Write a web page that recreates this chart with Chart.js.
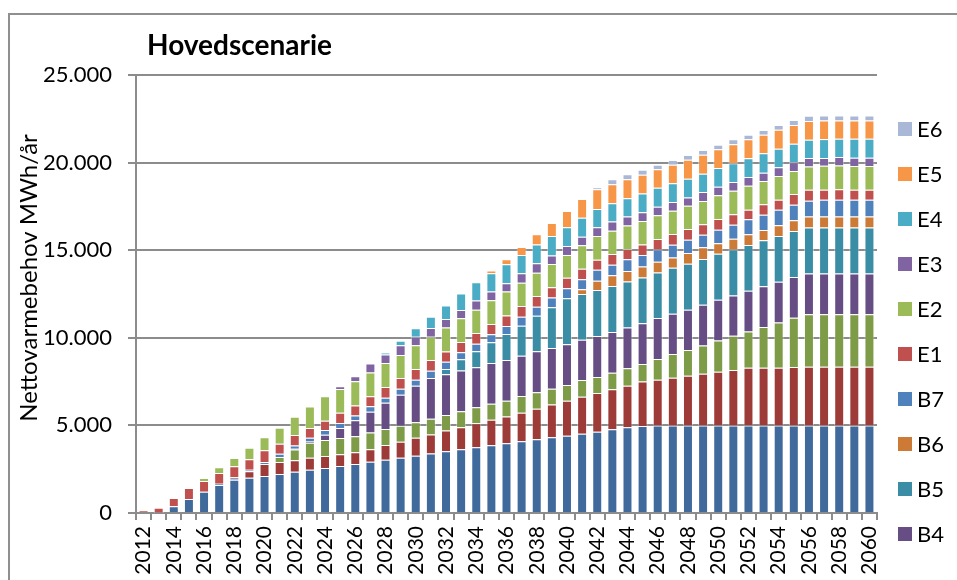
<!DOCTYPE html>
<html>
<head>
<meta charset="utf-8">
<script src="https://cdn.jsdelivr.net/npm/chart.js@4"></script>
<style>
  html, body { margin: 0; padding: 0; background: #fff; overflow: hidden; }
  canvas { display: block; }
</style>
</head>
<body>
<canvas id="chart" width="957" height="580"></canvas>
<script>
"use strict";

const years = [];
for (let y = 2012; y <= 2060; y++) years.push(String(y));

// values in MWh/år, 2012 .. 2060
const b1 = [0, 20, 380, 800, 1218, 1598, 1900, 2017, 2112, 2227,
    2350, 2470, 2569, 2683, 2800, 2920, 3040, 3155, 3271, 3400,
    3522, 3636, 3750, 3864, 3979, 4093, 4207, 4321, 4414, 4528,
    4641, 4776, 4892, 4970, 5000, 5000, 5000, 5000, 5000, 5000,
    5000, 5000, 5000, 5000, 5000, 5000, 5000, 5000, 5000];
const b2 = [0, 0, 0, 0, 0, 0, 40, 362, 685, 685,
    666, 685, 685, 666, 666, 723, 837, 913, 1027, 1084,
    1180, 1256, 1370, 1465, 1522, 1636, 1750, 1865, 1998, 2112,
    2207, 2283, 2378, 2530, 2607, 2721, 2835, 2950, 3064, 3159,
    3292, 3292, 3292, 3330, 3349, 3349, 3349, 3349, 3349];
const b3 = [0, 0, 0, 0, 0, 0, 0, 0, 0, 285,
    609, 856, 913, 932, 913, 951, 913, 913, 875, 894,
    894, 913, 913, 913, 913, 951, 932, 913, 894, 951,
    913, 951, 989, 1009, 1180, 1351, 1465, 1617, 1789, 1960,
    2074, 2322, 2588, 2816, 3001, 3001, 3001, 3001, 3001];
const b4 = [0, 0, 0, 0, 0, 0, 0, 0, 0, 0,
    40, 100, 300, 571, 913, 1180, 1503, 1770, 2093, 2322,
    2322, 2322, 2283, 2322, 2322, 2302, 2340, 2322, 2322, 2302,
    2340, 2322, 2322, 2322, 2340, 2302, 2302, 2322, 2322, 2302,
    2322, 2322, 2322, 2322, 2322, 2322, 2322, 2322, 2322];
const b5 = [0, 0, 0, 0, 0, 0, 0, 0, 0, 0,
    0, 0, 0, 0, 0, 0, 0, 0, 0, 0,
    304, 647, 913, 1180, 1484, 1712, 2036, 2322, 2626, 2607,
    2626, 2626, 2626, 2607, 2607, 2626, 2626, 2607, 2626, 2626,
    2607, 2626, 2607, 2626, 2626, 2626, 2626, 2626, 2626];
const b6 = [0, 0, 0, 0, 0, 0, 0, 0, 0, 0,
    0, 0, 0, 0, 0, 0, 0, 0, 0, 0,
    0, 0, 0, 0, 0, 0, 0, 0, 0, 266,
    533, 609, 609, 628, 609, 590, 609, 666, 590, 609,
    609, 590, 609, 609, 628, 628, 628, 628, 628];
const b7 = [0, 0, 0, 0, 0, 76, 100, 95, 120, 190,
    190, 190, 266, 285, 266, 323, 285, 343, 342, 418,
    418, 400, 438, 456, 456, 514, 514, 552, 571, 571,
    628, 609, 666, 666, 704, 723, 761, 723, 780, 799,
    856, 875, 894, 894, 894, 951, 951, 951, 951];
const e1 = [150, 280, 476, 628, 609, 609, 628, 590, 660, 571,
    590, 550, 533, 590, 571, 571, 609, 609, 609, 609,
    571, 590, 609, 590, 590, 609, 609, 590, 609, 609,
    571, 609, 590, 590, 590, 609, 609, 590, 609, 590,
    552, 590, 571, 609, 628, 571, 609, 571, 571];
const e2 = [0, 0, 0, 0, 171, 324, 476, 666, 740, 913,
    1047, 1230, 1400, 1351, 1389, 1351, 1370, 1313, 1351, 1332,
    1370, 1351, 1332, 1351, 1370, 1332, 1332, 1332, 1294, 1332,
    1351, 1332, 1332, 1351, 1351, 1332, 1332, 1332, 1351, 1351,
    1370, 1332, 1351, 1313, 1332, 1370, 1351, 1351, 1351];
const e3 = [0, 0, 0, 0, 0, 0, 0, 0, 0, 0,
    0, 0, 0, 152, 285, 514, 495, 552, 495, 495,
    495, 476, 514, 495, 476, 533, 533, 476, 514, 495,
    495, 514, 514, 495, 495, 495, 476, 514, 495, 495,
    495, 476, 495, 495, 476, 438, 476, 476, 476];
const e4 = [0, 0, 0, 0, 0, 0, 0, 0, 0, 0,
    0, 0, 0, 0, 0, 0, 114, 266, 476, 647,
    761, 932, 1047, 1047, 1085, 1047, 1066, 1123, 1066, 1085,
    1047, 1047, 1047, 1066, 1085, 1066, 1066, 1047, 1066, 1066,
    1066, 1104, 1066, 1066, 1047, 1085, 1047, 1085, 1085];
const e5 = [0, 0, 0, 0, 0, 0, 0, 0, 0, 0,
    0, 0, 0, 0, 0, 0, 0, 0, 0, 0,
    0, 0, 0, 152, 290, 455, 590, 742, 932, 1066,
    1123, 1085, 1085, 1066, 1047, 1066, 1085, 1085, 1066, 1085,
    1085, 1066, 1085, 1066, 1066, 1066, 1047, 1047, 1047];
const e6 = [0, 0, 0, 0, 0, 0, 0, 0, 0, 0,
    0, 0, 0, 0, 0, 0, 0, 0, 0, 0,
    0, 0, 0, 0, 0, 0, 0, 0, 0, 0,
    114, 285, 285, 285, 266, 266, 266, 266, 266, 285,
    266, 266, 266, 285, 304, 285, 285, 285, 285];

const seriesNames = ["B1", "B2", "B3", "B4", "B5", "B6", "B7", "E1", "E2", "E3", "E4", "E5", "E6"];
const seriesValues = [b1, b2, b3, b4, b5, b6, b7, e1, e2, e3, e4, e5, e6];
const seriesColors = ["#40699c", "#9d3b38", "#7e9b48", "#664d84", "#3a8da5", "#cc7a36", "#4f81bd",
    "#c0504d", "#9bbb59", "#8064a2", "#4bacc6", "#f79646", "#a9b8d7"];

const yTicks = [0, 5000, 10000, 15000, 20000, 25000];

const FONT = "Lato";
const lineGray = "#8c8c8c";

function formatThousands(v) {
    return String(v).replace(/\B(?=(\d{3})+(?!\d))/g, ".");
}

function buildDatasets() {
    return seriesNames.map((name, i) => ({
        label: name,
        data: seriesValues[i],
        backgroundColor: seriesColors[i],
        borderColor: "rgba(255,255,255,0.45)",
        borderWidth: 1,
        borderSkipped: "start",
        barPercentage: 0.66,
        categoryPercentage: 1.0
    }));
}

const decorPlugin = {
    id: "decor",
    beforeDraw(chart) {
        const ctx = chart.ctx;
        ctx.save();
        ctx.strokeStyle = "#8f8f8f";
        ctx.lineWidth = 2;
        ctx.beginPath();
        ctx.moveTo(9, chart.height);
        ctx.lineTo(9, 14);
        ctx.lineTo(chart.width, 14);
        ctx.stroke();
        ctx.restore();
    },
    afterDraw(chart) {
        const ctx = chart.ctx;
        const area = chart.chartArea;
        ctx.save();

        // title
        ctx.fillStyle = "#000";
        ctx.font = "bold 28px " + FONT;
        ctx.textBaseline = "alphabetic";
        ctx.textAlign = "left";
        ctx.fillText("Hovedscenarie", area.left + 11, 55);

        // y axis title
        ctx.save();
        ctx.translate(29, 278);
        ctx.rotate(-Math.PI / 2);
        ctx.font = "24px " + FONT;
        ctx.textAlign = "center";
        ctx.textBaseline = "middle";
        ctx.fillText("Nettovarmebehov MWh/år", 0, 0);
        ctx.restore();

        // legend, listed top to bottom in reverse stack order
        ctx.font = "22px " + FONT;
        ctx.textBaseline = "middle";
        ctx.textAlign = "left";
        const sets = chart.data.datasets.slice().reverse();
        sets.forEach((ds, i) => {
            const y = area.top + 54 + i * 45;
            if (y + 7 > chart.height) return;
            ctx.fillStyle = ds.backgroundColor;
            ctx.fillRect(area.right + 21, y - 7, 14, 14);
            ctx.fillStyle = "#000";
            ctx.fillText(ds.label, area.right + 40, y + 1);
        });
        ctx.restore();
    }
};

function buildChart() {
    const ctx = document.querySelector("#chart").getContext("2d");
    new Chart(ctx, {
        type: "bar",
        data: {
            labels: years,
            datasets: buildDatasets()
        },
        options: {
            responsive: false,
            animation: false,
            layout: {
                padding: { top: 75, right: 80, bottom: 0, left: 0 }
            },
            plugins: {
                legend: { display: false },
                title: { display: false },
                tooltip: { enabled: false }
            },
            scales: {
                x: {
                    stacked: true,
                    offset: true,
                    grid: {
                        offset: true,
                        drawOnChartArea: false,
                        drawTicks: true,
                        tickLength: 7,
                        color: lineGray,
                        lineWidth: 2
                    },
                    border: { display: true, color: lineGray, width: 2 },
                    ticks: {
                        autoSkip: false,
                        maxRotation: 90,
                        minRotation: 90,
                        padding: 6,
                        color: "#000",
                        font: { family: FONT, size: 21 },
                        callback: (v, i) => (i % 2 === 0 ? years[i] : "")
                    },
                    afterFit: scale => { scale.height = 67; }
                },
                y: {
                    stacked: true,
                    min: yTicks[0],
                    max: yTicks[yTicks.length - 1],
                    afterBuildTicks: scale => {
                        scale.ticks = yTicks.map(v => ({ value: v }));
                    },
                    grid: {
                        color: lineGray,
                        lineWidth: 2,
                        drawTicks: true,
                        tickLength: 8
                    },
                    border: { display: true, color: lineGray, width: 2 },
                    ticks: {
                        padding: 16,
                        color: "#000",
                        font: { family: FONT, size: 22 },
                        callback: v => formatThousands(v)
                    },
                    afterFit: scale => { scale.width = 136; }
                }
            }
        },
        plugins: [decorPlugin]
    });
}

buildChart();
</script>
</body>
</html>
